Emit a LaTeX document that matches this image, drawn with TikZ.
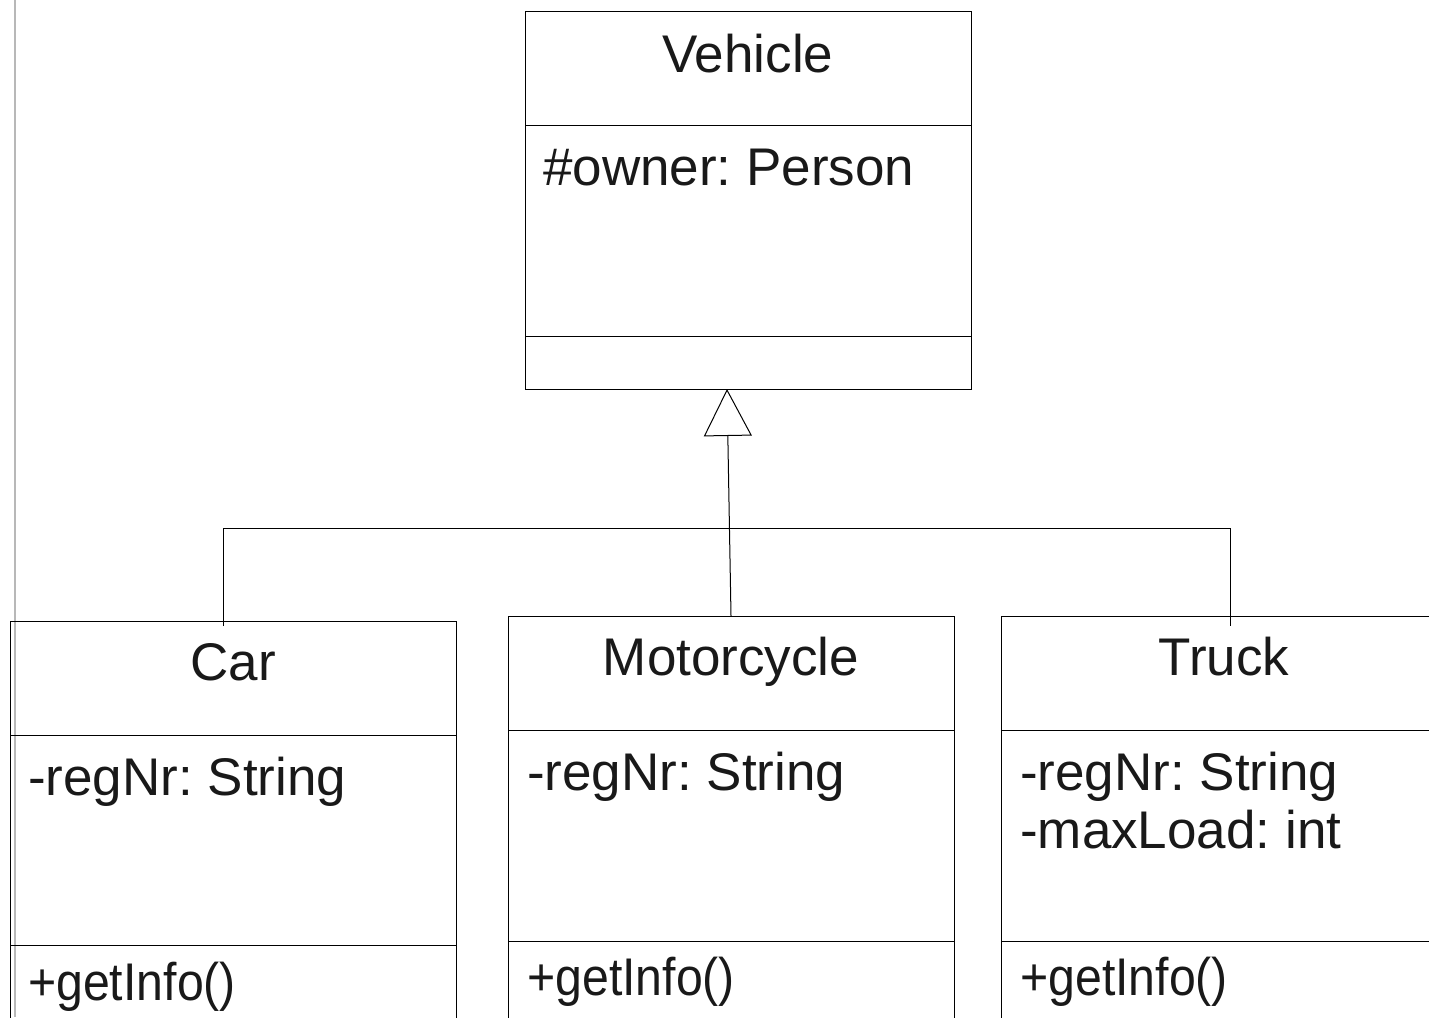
\documentclass[tikz,border=0pt]{standalone}
\usepackage{fontspec}
\setmainfont{Liberation Sans}
\usetikzlibrary{arrows.meta}
\frenchspacing
\begin{document}
\begin{tikzpicture}[x=1pt,y=-1pt,
  classbox/.style={draw, line width=1pt, rectangle, anchor=north west,
    inner sep=0pt, outer sep=0pt, minimum width=446pt},
  txt/.style={font=\fontsize{53}{60}\selectfont, inner sep=0pt, text=black!90},
  divider/.style={line width=1pt},
  link/.style={line width=1pt}
  ]
\newcommand\tightop[1]{\scalebox{0.91}[1]{#1}}
\useasboundingbox (0,0) rectangle (1429,1017);
\clip (0,0) rectangle (1429,1017);
\fill[white] (0,0) rectangle (1429,1017);

% page margin rule
\draw[line width=2pt, black!28] (14.5,0) -- (14.5,1017);

% superclass
\node[classbox, minimum height=378pt] (vehicle) at (525,11) {};
\draw[divider] (525,125) -- (971,125);
\draw[divider] (525,336) -- (971,336);
\node[txt, anchor=base] (vehicle-name) at (748,72) {Vehicle};
\node[txt, anchor=base west] (vehicle-attr) at (543,185) {\#owner: Person};

% subclasses
\node[classbox, minimum height=500pt] (car) at (10,621) {};
\draw[divider] (10,735) -- (456,735);
\draw[divider] (10,945) -- (456,945);
\node[txt, anchor=base] (car-name) at (233,680) {Car};
\node[txt, anchor=base west] (car-attr) at (28,795) {-regNr: String};
\node[txt, anchor=base west] (car-op) at (28,1000) {\tightop{+getInfo()}};

\node[classbox, minimum height=500pt] (motorcycle) at (508,616) {};
\draw[divider] (508,730) -- (954,730);
\draw[divider] (508,941) -- (954,941);
\node[txt, anchor=base] (motorcycle-name) at (731,675) {Motorcycle};
\node[txt, anchor=base west] (motorcycle-attr) at (527,790) {-regNr: String};
\node[txt, anchor=base west] (motorcycle-op) at (527,995) {\tightop{+getInfo()}};

\node[classbox, minimum height=500pt] (truck) at (1001,616) {};
\draw[divider] (1001,730) -- (1447,730);
\draw[divider] (1001,941) -- (1447,941);
\node[txt, anchor=base] (truck-name) at (1224,675) {Truck};
\node[txt, anchor=base west] (truck-attr1) at (1020,790) {-regNr: String};
\node[txt, anchor=base west] (truck-attr2) at (1020,848) {-maxLoad: int};
\node[txt, anchor=base west] (truck-op) at (1020,995) {\tightop{+getInfo()}};

% generalization
\coordinate (busL) at (223,528);
\coordinate (busR) at (1230,528);
\draw[link, shorten <=-5pt] ([xshift=-10pt]car.north) -- (busL) -- (busR)
  -- ([xshift=6pt,yshift=-10pt]truck.north);
\draw[link, -{Triangle[open, length=47pt, width=48pt, line width=1pt]}]
  (motorcycle.north) -- ([xshift=-21pt]vehicle.south);
\end{tikzpicture}
\end{document}
